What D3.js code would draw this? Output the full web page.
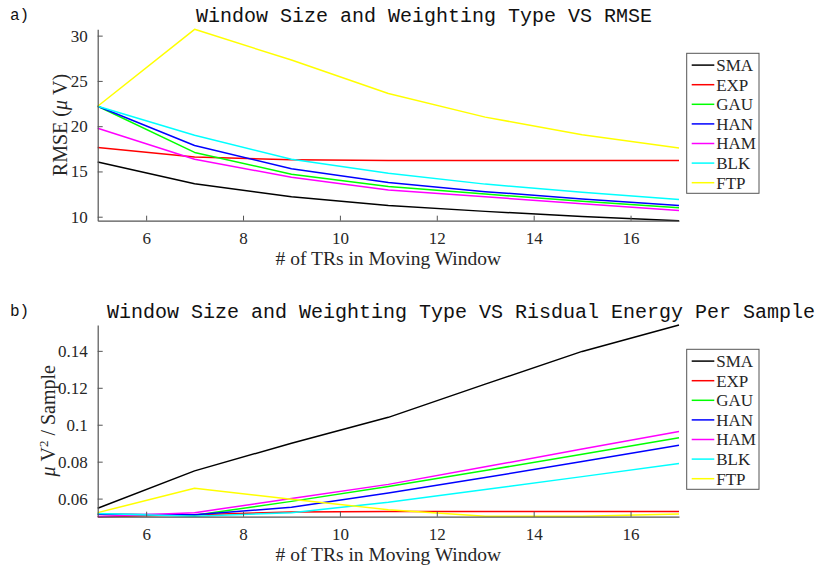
<!DOCTYPE html>
<html>
<head>
<meta charset="utf-8">
<script src="https://cdn.jsdelivr.net/npm/d3@7"></script>
<style>
  html, body { margin: 0; padding: 0; background: #fff; }
  svg { display: block; }
</style>
</head>
<body>
<svg id="chart" width="822" height="567"></svg>
<script>
// Window sizes (# of TRs) shared by both panels
const windowSizes = [5, 7, 9, 11, 13, 15, 17];

// Weighting types, in legend order, with their line colours
const methods = ["SMA", "EXP", "GAU", "HAN", "HAM", "BLK", "FTP"];
const methodColors = ["#000000", "#ff0000", "#00ff00", "#0000ff", "#ff00ff", "#00ffff", "#ffff00"];

// Panel a) RMSE (µV) per weighting type
const rmseSMA = [16.05, 13.65, 12.2, 11.25, 10.59, 10.03, 9.56];
const rmseEXP = [17.64, 16.6, 16.3, 16.2, 16.2, 16.2, 16.2];
const rmseGAU = [22.2, 17.1, 14.7, 13.35, 12.5, 11.7, 11.0];
const rmseHAN = [22.2, 17.86, 15.3, 13.78, 12.77, 11.96, 11.25];
const rmseHAM = [19.78, 16.35, 14.35, 12.95, 12.2, 11.43, 10.7];
const rmseBLK = [22.2, 19.0, 16.35, 14.8, 13.6, 12.7, 11.9];
const rmseFTP = [22.2, 30.7, 27.3, 23.6, 21.0, 19.05, 17.6];

// Panel b) residual energy per sample (µV² / sample)
const energySMA = [0.0548, 0.075, 0.090, 0.104, 0.122, 0.1397, 0.154];
const energyEXP = [0.0502, 0.0512, 0.0528, 0.053, 0.053, 0.053, 0.053];
const energyGAU = [0.0515, 0.051, 0.0585, 0.0665, 0.0752, 0.084, 0.0929];
const energyHAN = [0.0515, 0.0512, 0.0553, 0.063, 0.0714, 0.0801, 0.0889];
const energyHAM = [0.0503, 0.0524, 0.0600, 0.0677, 0.0772, 0.0868, 0.0963];
const energyBLK = [0.052, 0.0504, 0.0524, 0.058, 0.0649, 0.0719, 0.079];
const energyFTP = [0.0524, 0.0656, 0.0597, 0.054, 0.0504, 0.0504, 0.0516];

// Tick values and labels
const xTicks = [6, 8, 10, 12, 14, 16];
const xTickLabels = ["6", "8", "10", "12", "14", "16"];
const rmseTicks = [10, 15, 20, 25, 30];
const rmseTickLabels = ["10", "15", "20", "25", "30"];
const energyTicks = [0.06, 0.08, 0.1, 0.12, 0.14];
const energyTickLabels = ["0.06", "0.08", "0.1", "0.12", "0.14"];

const serif = "'Liberation Serif', 'Times New Roman', serif";
const mono = "'Liberation Mono', 'Courier New', monospace";
const textColor = "#262626";
const axisColor = "#555555";

const svg = d3.select("#chart");

function drawPanel(cfg) {
  const { top, bottom, series, yTicks, yTickLabels, title, titleX, tag, yLabel, legendTop, titleY } = cfg;
  const left = 97.7, right = 679;

  const all = series.flat();
  const x = d3.scaleLinear().domain(d3.extent(windowSizes)).range([left, right]);
  const y = d3.scaleLinear().domain(d3.extent(all)).range([bottom, top]);

  const g = svg.append("g");

  // data lines
  const line = d3.line().x((d, i) => x(windowSizes[i])).y(d => y(d));
  series.forEach((vals, k) => {
    g.append("path")
      .datum(vals)
      .attr("d", line)
      .attr("fill", "none")
      .attr("stroke", methodColors[k])
      .attr("stroke-width", 1.5)
      .attr("stroke-linejoin", "round");
  });

  // x axis (ticks inward)
  const xa = g.append("g")
    .attr("transform", `translate(0,${bottom})`)
    .call(d3.axisBottom(x).tickValues(xTicks)
      .tickFormat((d, i) => xTickLabels[i])
      .tickSizeInner(-5).tickSizeOuter(0).tickPadding(11));
  // y axis (ticks inward)
  const ya = g.append("g")
    .attr("transform", `translate(${left},0)`)
    .call(d3.axisLeft(y).tickValues(yTicks)
      .tickFormat((d, i) => yTickLabels[i])
      .tickSizeInner(-5).tickSizeOuter(0).tickPadding(10));

  [xa, ya].forEach(a => {
    a.attr("font-family", serif).attr("font-size", 17);
    a.select(".domain").attr("stroke", axisColor).attr("stroke-width", 1.2);
    a.selectAll(".tick line").attr("stroke", axisColor).attr("stroke-width", 1);
    a.selectAll(".tick text")
      .attr("fill", textColor)
      .style("font-family", serif)
      .style("font-size", "17px");
  });

  // x axis label
  g.append("text")
    .attr("x", (left + right) / 2)
    .attr("y", bottom + 44.5)
    .attr("text-anchor", "middle")
    .attr("fill", textColor)
    .attr("font-family", serif)
    .attr("font-size", 19.5)
    .text("# of TRs in Moving Window");

  // y axis label
  const yl = g.append("text")
    .attr("transform", `translate(${yLabel.x},${(top + bottom) / 2}) rotate(-90)`)
    .attr("text-anchor", "middle")
    .attr("fill", textColor)
    .attr("font-family", serif)
    .attr("font-size", 20);
  yLabel.parts.forEach(p => {
    const t = yl.append("tspan").text(p.text);
    if (p.italic) t.attr("font-style", "italic");
    if (p.sup) t.attr("baseline-shift", "super").attr("font-size", 13);
  });

  // title and panel tag
  g.append("text")
    .attr("x", titleX)
    .attr("y", titleY)
    .attr("text-anchor", "middle")
    .attr("fill", "#111")
    .attr("font-family", mono)
    .attr("font-size", 20)
    .text(title);
  g.append("text")
    .attr("x", 10)
    .attr("y", titleY - 2)
    .attr("fill", "#111")
    .attr("font-family", mono)
    .attr("font-size", 16)
    .text(tag);

  // legend
  const lg = g.append("g").attr("transform", `translate(686.7,${legendTop})`);
  lg.append("rect")
    .attr("width", 72.3).attr("height", 140)
    .attr("fill", "#fff")
    .attr("stroke", axisColor)
    .attr("stroke-width", 1);
  methods.forEach((m, k) => {
    const cy = 11.8 + k * 19.6;
    lg.append("line")
      .attr("x1", 5).attr("x2", 27.6)
      .attr("y1", cy).attr("y2", cy)
      .attr("stroke", methodColors[k])
      .attr("stroke-width", 1.5);
    lg.append("text")
      .attr("x", 29.5).attr("y", cy)
      .attr("dy", "0.35em")
      .attr("fill", textColor)
      .attr("font-family", serif)
      .attr("font-size", 17)
      .text(m);
  });
}

drawPanel({
  top: 29.3, bottom: 220.7,
  series: [rmseSMA, rmseEXP, rmseGAU, rmseHAN, rmseHAM, rmseBLK, rmseFTP],
  yTicks: rmseTicks, yTickLabels: rmseTickLabels,
  title: "Window Size and Weighting Type VS RMSE",
  titleX: 424,
  tag: "a)", titleY: 22,
  legendTop: 53.3,
  yLabel: { x: 67, parts: [{ text: "RMSE (" }, { text: "\u03BC", italic: true }, { text: " V)" }] }
});

drawPanel({
  top: 325, bottom: 516.7,
  series: [energySMA, energyEXP, energyGAU, energyHAN, energyHAM, energyBLK, energyFTP],
  yTicks: energyTicks, yTickLabels: energyTickLabels,
  title: "Window Size and Weighting Type VS Risdual Energy Per Sample",
  titleX: 461,
  tag: "b)", titleY: 318,
  legendTop: 349.3,
  yLabel: { x: 55, parts: [{ text: "\u03BC", italic: true }, { text: " V" }, { text: "2", sup: true }, { text: " / Sample" }] }
});
</script>
</body>
</html>
